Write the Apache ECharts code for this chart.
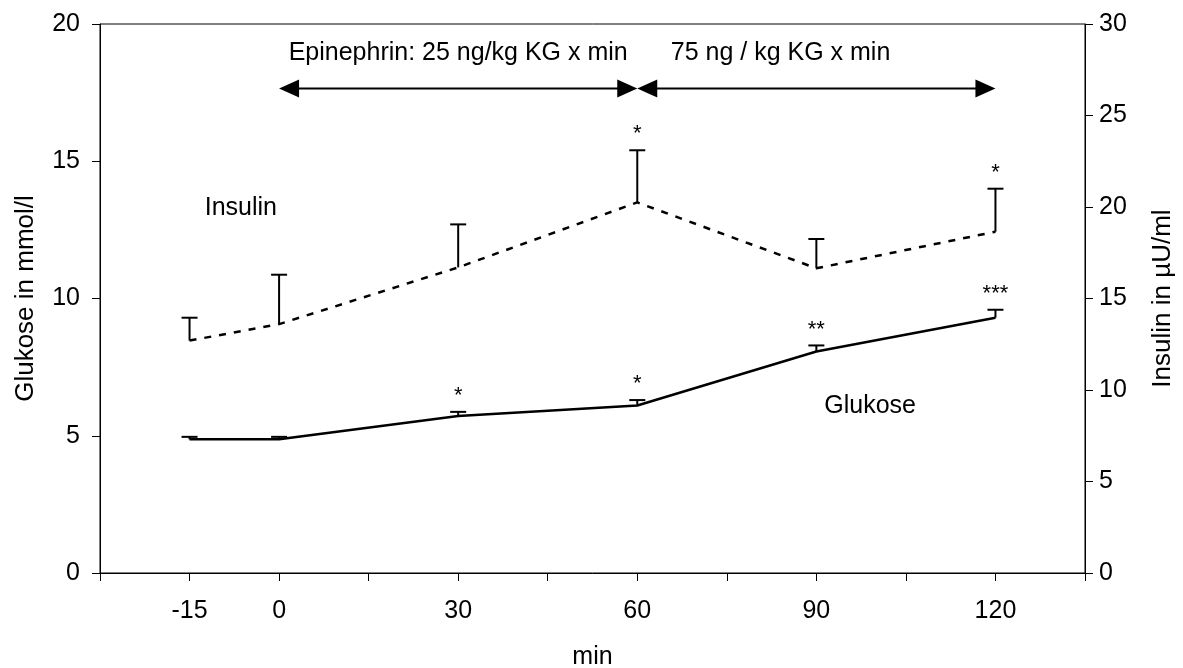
<!DOCTYPE html>
<html lang="de">
<head>
<meta charset="UTF-8">
<title>Glukose und Insulin unter Epinephrin</title>
<script src="https://cdn.jsdelivr.net/npm/echarts@6/dist/echarts.min.js"></script>
<style>
  html, body { margin: 0; padding: 0; background: #fff; }
  #main { width: 1183px; height: 668px; }
</style>
</head>
<body>
<div id="main"></div>
<script>
// time points (min)
var minutes = [-15, 0, 30, 60, 90, 120];
var xTickLabels = [-15, 0, 30, 60, 90, 120];

// Glukose in mmol/l (left axis)
var glucose = [4.87, 4.87, 5.72, 6.1, 8.07, 9.3];
var glucoseSem = [0.09, 0.09, 0.15, 0.2, 0.22, 0.29];
var glucoseSig = ['', '', '*', '*', '**', '***'];

// Insulin in µU/ml (right axis)
var insulin = [12.7, 13.6, 16.7, 20.25, 16.65, 18.65];
var insulinSem = [1.25, 2.7, 2.35, 2.85, 1.6, 2.35];
var insulinSig = ['', '', '', '*', '', '*'];

// infusion periods (min) and their labels
var infusionPeriods = [[0, 60], [60, 120]];
var infusionLabels = ['Epinephrin: 25 ng/kg KG x min', '75 ng / kg KG x min'];
var infusionLabelX = [30, 84];

var FONT = '"Liberation Sans", Arial, sans-serif';

var chart = echarts.init(document.getElementById('main'));

function errorSeries(name, means, sems, sigs, axisIdx) {
    return {
        name: name + ' SEM',
        type: 'custom',
        yAxisIndex: axisIdx,
        clip: false,
        silent: true,
        z: 5,
        data: minutes.map(function (m, i) { return [m, means[i], means[i] + sems[i]]; }),
        renderItem: function (params, api) {
            var x = api.value(0);
            var p0 = api.coord([x, api.value(1)]);
            var p1 = api.coord([x, api.value(2)]);
            var children = [
                { type: 'line', shape: { x1: p0[0], y1: p0[1], x2: p1[0], y2: p1[1] },
                  style: { stroke: '#000', lineWidth: 2 } },
                { type: 'line', shape: { x1: p1[0] - 8, y1: p1[1], x2: p1[0] + 8, y2: p1[1] },
                  style: { stroke: '#000', lineWidth: 2 } }
            ];
            var s = sigs[params.dataIndex];
            if (s) {
                children.push({ type: 'text', style: {
                    text: s, x: p1[0], y: p1[1] - 5, align: 'center', verticalAlign: 'bottom',
                    font: '22px ' + FONT, fill: '#000' } });
            }
            return { type: 'group', children: children };
        }
    };
}

chart.setOption({
    animation: false,
    backgroundColor: '#fff',
    grid: {
        left: 100, right: 98, top: 24, bottom: 95,
        outerBoundsMode: 'none', containLabel: false,
        show: true, borderColor: '#000', borderWidth: 1
    },
    xAxis: {
        type: 'value', min: -30, max: 135, interval: 15,
        name: 'min', nameLocation: 'middle', nameGap: 72,
        nameTextStyle: { color: '#000', fontSize: 25, fontFamily: FONT },
        axisLine: { lineStyle: { color: '#000', width: 1 } },
        axisTick: { inside: false, length: 8, lineStyle: { color: '#000' } },
        axisLabel: {
            color: '#000', fontSize: 25, fontFamily: FONT, margin: 26,
            formatter: function (v) { return xTickLabels.indexOf(v) >= 0 ? String(v) : ''; }
        },
        splitLine: { show: false }
    },
    yAxis: [{
        type: 'value', min: 0, max: 20, interval: 5, position: 'left',
        name: 'Glukose in mmol/l', nameLocation: 'middle', nameGap: 61, nameRotate: 90,
        nameTextStyle: { color: '#000', fontSize: 26, fontFamily: FONT },
        axisLine: { show: true, onZero: false, lineStyle: { color: '#000', width: 1 } },
        axisTick: { show: true, length: 8, lineStyle: { color: '#000' } },
        axisLabel: { color: '#000', fontSize: 25, fontFamily: FONT, margin: 20 },
        splitLine: { show: false }
    }, {
        type: 'value', min: 0, max: 30, interval: 5, position: 'right',
        name: 'Insulin in µU/ml', nameLocation: 'middle', nameGap: 65, nameRotate: 90,
        nameTextStyle: { color: '#000', fontSize: 26, fontFamily: FONT },
        axisLine: { show: true, onZero: false, lineStyle: { color: '#000', width: 1 } },
        axisTick: { show: true, length: 8, lineStyle: { color: '#000' } },
        axisLabel: { color: '#000', fontSize: 25, fontFamily: FONT, margin: 14 },
        splitLine: { show: false }
    }],
    series: [{
        name: 'Glukose',
        type: 'line',
        yAxisIndex: 0,
        symbol: 'none',
        data: minutes.map(function (m, i) { return [m, glucose[i]]; }),
        lineStyle: { color: '#000', width: 2.5 },
        z: 3
    }, {
        name: 'Insulin',
        type: 'line',
        yAxisIndex: 1,
        symbol: 'none',
        data: minutes.map(function (m, i) { return [m, insulin[i]]; }),
        lineStyle: { color: '#000', width: 2.5, type: [7, 8] },
        z: 3
    },
    errorSeries('Glukose', glucose, glucoseSem, glucoseSig, 0),
    errorSeries('Insulin', insulin, insulinSem, insulinSig, 1),
    {
        name: 'Infusion',
        type: 'custom',
        yAxisIndex: 0,
        clip: false,
        silent: true,
        data: infusionPeriods.map(function (p, i) { return [p[0], p[1], infusionLabelX[i]]; }),
        renderItem: function (params, api) {
            var a = api.coord([api.value(0), 17.65]);
            var b = api.coord([api.value(1), 17.65]);
            var t = api.coord([api.value(2), 18.95]);
            var L = 20, H = 18, y = a[1];
            return { type: 'group', children: [
                { type: 'line', shape: { x1: a[0] + L / 2, y1: y, x2: b[0] - L / 2, y2: y },
                  style: { stroke: '#000', lineWidth: 2 } },
                { type: 'polygon', shape: { points: [[a[0], y], [a[0] + L, y - H / 2], [a[0] + L, y + H / 2]] },
                  style: { fill: '#000' } },
                { type: 'polygon', shape: { points: [[b[0], y], [b[0] - L, y - H / 2], [b[0] - L, y + H / 2]] },
                  style: { fill: '#000' } },
                { type: 'text', style: { text: infusionLabels[params.dataIndex], x: t[0], y: t[1],
                  align: 'center', verticalAlign: 'middle', font: '25px ' + FONT, fill: '#000' } }
            ] };
        }
    }, {
        name: 'Labels',
        type: 'custom',
        yAxisIndex: 0,
        silent: true,
        data: [[-6.4, 13.28, 0], [99, 6.08, 1]],
        renderItem: function (params, api) {
            var p = api.coord([api.value(0), api.value(1)]);
            var names = ['Insulin', 'Glukose'];
            return { type: 'text', style: { text: names[api.value(2)], x: p[0], y: p[1],
                align: 'center', verticalAlign: 'middle', font: '25px ' + FONT, fill: '#000' } };
        }
    }]
});
</script>
</body>
</html>
